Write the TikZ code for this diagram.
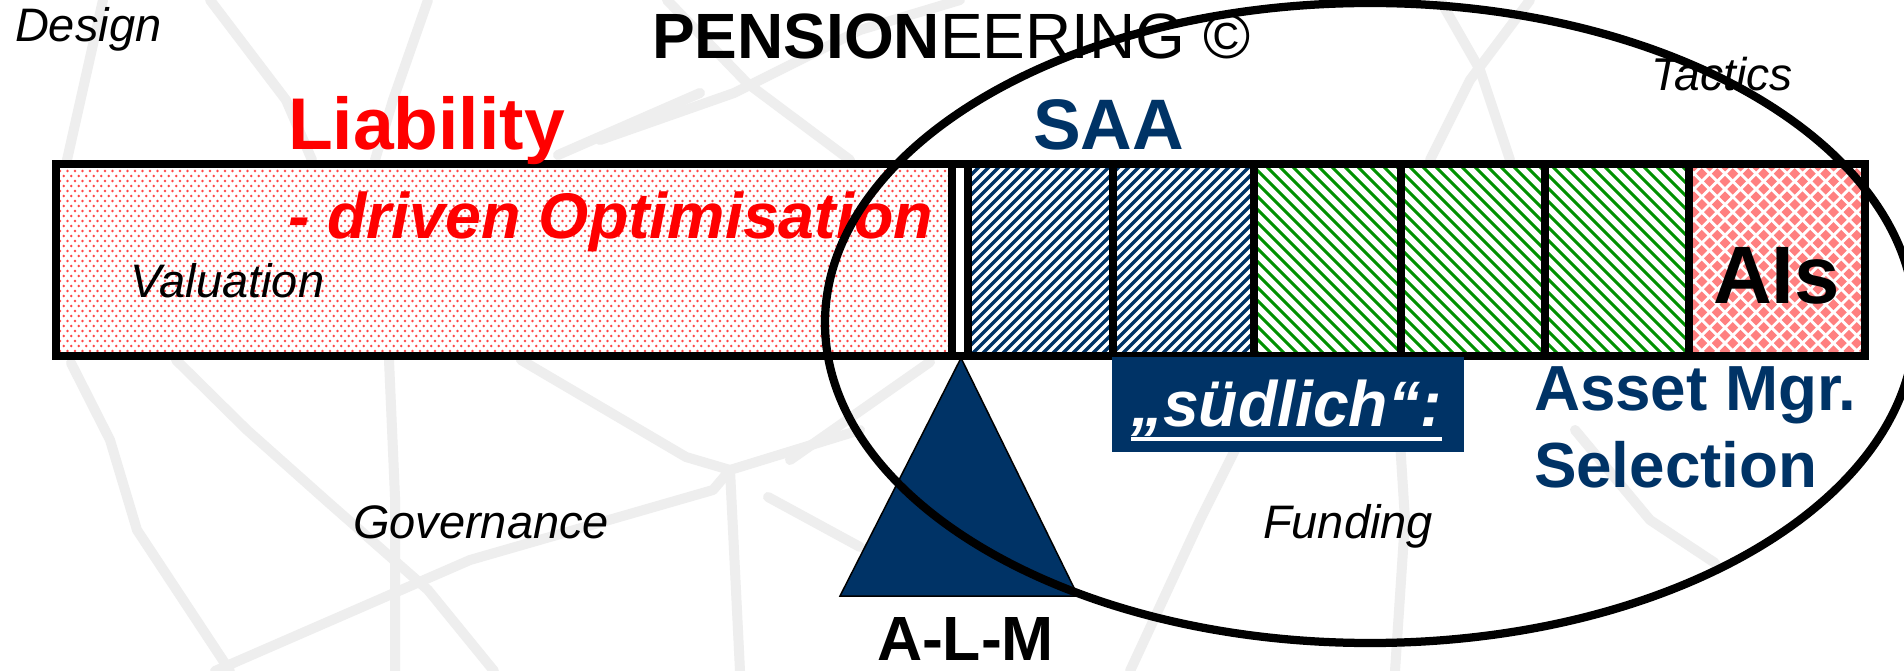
\documentclass[tikz,border=0pt]{standalone}
\usepackage{fontspec}
\setmainfont{Liberation Sans}
\usetikzlibrary{patterns}
\pgfdeclarepatternformonly{lvdots}{\pgfqpoint{-1pt}{-1pt}}{\pgfqpoint{4pt}{5pt}}{\pgfqpoint{3pt}{4pt}}{%
  \pgfpathcircle{\pgfqpoint{0pt}{0pt}}{0.55pt}%
  \pgfpathcircle{\pgfqpoint{1.5pt}{2pt}}{0.55pt}%
  \pgfusepath{fill}}
\definecolor{navy}{RGB}{0,51,102}
\definecolor{stripegreen}{RGB}{0,145,0}
\definecolor{salmon}{RGB}{255,128,128}
\definecolor{dotred}{RGB}{255,70,70}
\definecolor{sketch}{RGB}{238,238,238}
\tikzset{
  lbl/.style={anchor=base west, inner sep=0pt, outer sep=0pt},
  itlbl/.style={lbl, font=\fontsize{18.8}{22}\selectfont\itshape},
  sketchline/.style={sketch, line width=4pt, line cap=round, line join=round},
  border/.style={black, line width=3.2pt},
  divider/.style={black, line width=2.9pt},
  bluestripe/.style={navy, line width=1.3pt},
  greenstripe/.style={stripegreen, line width=1.2pt},
}
\begin{document}
\begin{tikzpicture}[x=0.4pt,y=-0.4pt]
\useasboundingbox (0,0) rectangle (1904,671);
\fill[white] (0,0) rectangle (1904,671);
% faint background sketch
\draw[sketchline] (71,363) -- (110,440) -- (137,530) -- (230,671);
\draw[sketchline] (176,360) -- (247,430) -- (329,503) -- (428,590) -- (494,671);
\draw[sketchline] (389,360) -- (395,497) -- (395,671);
\draw[sketchline] (521,360) -- (686,457) -- (730,470) -- (860,430);
\draw[sketchline] (215,671) -- (470,560) -- (713,490) -- (730,470);
\draw[sketchline] (730,470) -- (740,671);
\draw[sketchline] (768,497) -- (860,547);
\draw[sketchline] (790,460) -- (930,362);
\draw[sketchline] (103,0) -- (67,160);
\draw[sketchline] (210,0) -- (286,100) -- (312,160);
\draw[sketchline] (428,0) -- (393,100) -- (375,160);
\draw[sketchline] (700,93) -- (558,155);
\draw[sketchline] (667,0) -- (747,83) -- (850,160);
\draw[sketchline] (600,140) -- (734,93) -- (860,30) -- (960,0);
\draw[sketchline] (1440,0) -- (1480,70) -- (1510,160);
\draw[sketchline] (1530,0) -- (1470,80) -- (1430,160);
\draw[sketchline] (1395,363) -- (1405,520) -- (1395,671);
\draw[sketchline] (1130,671) -- (1200,520) -- (1260,400);
\draw[sketchline] (1575,430) -- (1650,520) -- (1715,563);
% bar cells
\fill[white] (56,164) rectangle (1865,356);
\fill[pattern=lvdots, pattern color=dotred] (56,164) rectangle (952,356);
\begin{scope}
  \clip (968,164) rectangle (1254,356);
  \foreach \c in {770,780,...,1260} \draw[bluestripe] (\c,356) -- ++(192,-192);
\end{scope}
\begin{scope}
  \clip (1254,164) rectangle (1689,356);
  \foreach \c in {1056,1069,...,1700} \draw[greenstripe] (\c,164) -- ++(192,192);
\end{scope}
\begin{scope}
  \clip (1689,164) rectangle (1865,356);
  \foreach \i in {0,...,12} \foreach \j in {0,...,13} {
    \fill[salmon] ({1694+\i*15.5},{160.5+\j*15.4}) -- ++(5.5,5.5) -- ++(-5.5,5.5) -- ++(-5.5,-5.5) -- cycle;
    \fill[salmon] ({1701.75+\i*15.5},{168.2+\j*15.4}) -- ++(5.5,5.5) -- ++(-5.5,5.5) -- ++(-5.5,-5.5) -- cycle;
  }
\end{scope}
% borders
\foreach \x in {952,968,1113,1254,1401,1545,1689} \draw[divider] (\x,164) -- (\x,356);
\draw[border] (56,164) rectangle (1865,356);
% texts
\node[itlbl] (design) at (15,42) {Design};
\node[lbl, font=\fontsize{25.6}{30}\selectfont] (title) at (652,59) {\textbf{PENSION}EERING ©};
\node[lbl, red, font=\fontsize{29.3}{34}\selectfont\bfseries] (liab) at (288,150) {Liability};
\node[lbl, red, font=\fontsize{25.8}{30}\selectfont\bfseries\itshape] (ldo) at (288,239) {- driven Optimisation};
\node[itlbl] (valuation) at (130,298) {Valuation};
\node[lbl, navy, font=\fontsize{28.6}{33}\selectfont\bfseries] (saa) at (1033,150) {SAA};
\node[itlbl, font=\fontsize{18.4}{22}\selectfont\itshape] (tactics) at (1651,91) {Tactics};
\node[lbl, font=\fontsize{32.6}{38}\selectfont\bfseries] (ais) at (1713,304) {AIs};
\node[lbl, navy, font=\fontsize{25.5}{30}\selectfont\bfseries] (asset) at (1534,411) {Asset Mgr.};
\node[lbl, navy, font=\fontsize{25.5}{30}\selectfont\bfseries] (selection) at (1534,487) {Selection};
\node[itlbl] (governance) at (353,538) {Governance};
\node[itlbl] (funding) at (1263,538) {Funding};
\node[lbl, font=\fontsize{25}{30}\selectfont\bfseries] (alm) at (877,660) {A-L-M};
% triangle
\filldraw[fill=navy, draw=black, line width=0.6pt] (961,358) -- (1078,596) -- (840,596) -- cycle;
% suedlich box
\fill[navy] (1112,357) rectangle (1464,452);
\node[lbl, white, font=\fontsize{25.7}{30}\selectfont\bfseries\itshape] (sud) at (1131,427) {„südlich“:};
\draw[white, line width=1.6pt] ([yshift=-4.6pt]sud.base west) -- ([yshift=-4.6pt]sud.base east);
% ellipse
\draw[black, line width=3.3pt] (1370,323) ellipse [x radius=218pt, y radius=128pt];
\end{tikzpicture}
\end{document}
